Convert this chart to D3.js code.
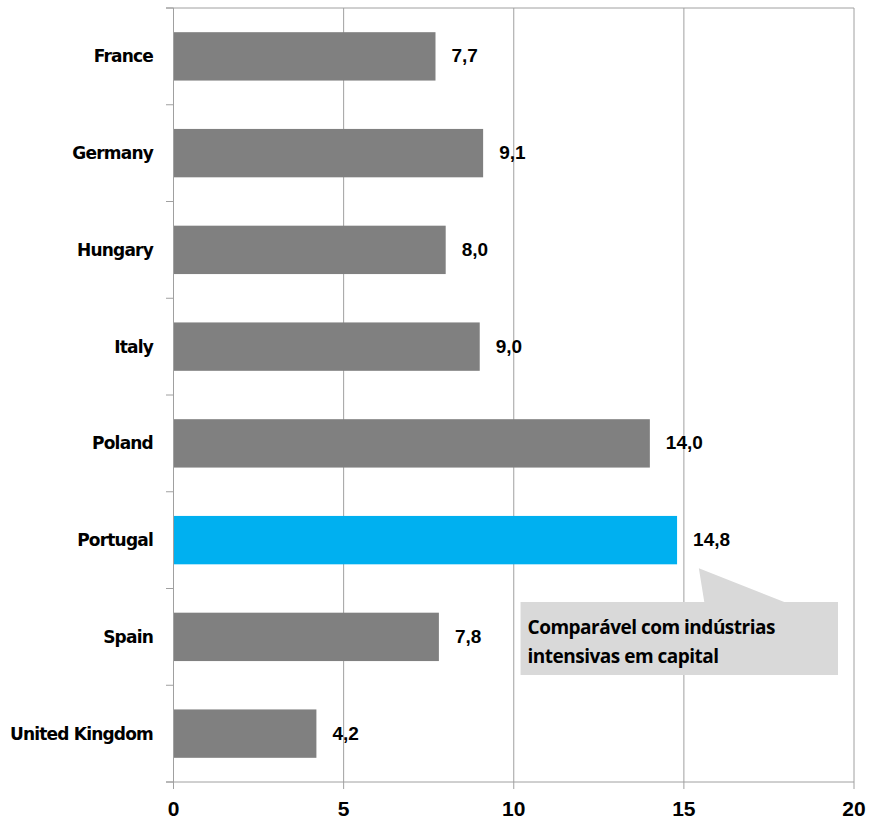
<html>
<head>
<meta charset="utf-8">
<title>Bar chart</title>
<style>
  html, body { margin: 0; background: #fff; }
  .cat { font-family: "DejaVu Sans", sans-serif; font-weight: bold; font-size: 17px; letter-spacing: -0.8px; fill: #000; }
  .val { font-family: "Liberation Sans", Arial, sans-serif; font-weight: bold; font-size: 19px; fill: #000; }
  .tick { font-family: "Liberation Sans", Arial, sans-serif; font-weight: bold; font-size: 21px; fill: #000; }
  .note { font-family: "Open Sans", sans-serif; font-weight: 700; font-size: 19px; letter-spacing: -0.5px; fill: #000; }
</style>
</head>
<body>
<div id="chart"></div>
<script src="https://cdn.jsdelivr.net/npm/d3@7"></script>
<script>
var countries = ["France", "Germany", "Hungary", "Italy", "Poland", "Portugal", "Spain", "United Kingdom"]
var values = [7.7, 9.1, 8.0, 9.0, 14.0, 14.8, 7.8, 4.2]
var highlight = "Portugal"
var xTicks = [0, 5, 10, 15, 20]
var noteLines = ["Comparável com indústrias", "intensivas em capital"]

var width = 870, height = 820
var svg = d3.select("#chart").append("svg")
  .attr("width", width)
  .attr("height", height)

var x = d3.scaleLinear().domain([0, 20]).range([173.5, 854])
var y = d3.scaleBand().domain(countries).range([8, 782]).paddingInner(0.5).paddingOuter(0.25)
var step = y.step()
var lineColor = "#a0a0a0"

// vertical gridlines
svg.selectAll("line.grid")
  .data(xTicks.slice(1))
  .enter().append("line")
  .attr("x1", function(d) { return x(d) }).attr("x2", function(d) { return x(d) })
  .attr("y1", 8).attr("y2", 782)
  .attr("stroke", lineColor).attr("stroke-width", 1)

// top line
svg.append("line")
  .attr("x1", 166).attr("x2", x(20)).attr("y1", 8).attr("y2", 8)
  .attr("stroke", lineColor)

// bars
svg.selectAll("rect.bar")
  .data(values)
  .enter().append("rect")
  .attr("x", x(0))
  .attr("y", function(d, i) { return y(countries[i]) })
  .attr("width", function(d) { return x(d) - x(0) })
  .attr("height", y.bandwidth())
  .attr("fill", function(d, i) { return countries[i] === highlight ? "#00b0f0" : "#808080" })

// value labels
svg.selectAll("text.val")
  .data(values)
  .enter().append("text")
  .attr("class", "val")
  .attr("x", function(d) { return x(d) + 16 })
  .attr("y", function(d, i) { return y(countries[i]) + y.bandwidth() / 2 + 1 })
  .attr("dominant-baseline", "middle")
  .text(function(d) { return d.toFixed(1).replace(".", ",") })

// category axis
svg.append("line")
  .attr("x1", x(0)).attr("x2", x(0)).attr("y1", 8).attr("y2", 782)
  .attr("stroke", lineColor)
svg.selectAll("line.ctick")
  .data(d3.range(countries.length + 1))
  .enter().append("line")
  .attr("x1", 166).attr("x2", x(0))
  .attr("y1", function(i) { return 8 + i * step }).attr("y2", function(i) { return 8 + i * step })
  .attr("stroke", lineColor)
svg.selectAll("text.cat")
  .data(countries)
  .enter().append("text")
  .attr("class", "cat")
  .attr("x", 153)
  .attr("y", function(d) { return y(d) + y.bandwidth() / 2 + 1 })
  .attr("text-anchor", "end")
  .attr("dominant-baseline", "middle")
  .text(function(d) { return d })

// value axis
svg.append("line")
  .attr("x1", 166).attr("x2", x(20)).attr("y1", 782).attr("y2", 782)
  .attr("stroke", lineColor)
svg.selectAll("line.vtick")
  .data(xTicks)
  .enter().append("line")
  .attr("x1", function(d) { return x(d) }).attr("x2", function(d) { return x(d) })
  .attr("y1", 782).attr("y2", 789)
  .attr("stroke", lineColor)
svg.selectAll("text.tick")
  .data(xTicks)
  .enter().append("text")
  .attr("class", "tick")
  .attr("x", function(d) { return x(d) })
  .attr("y", 816)
  .attr("text-anchor", "middle")
  .text(function(d) { return d })

// callout
var pt = y(highlight) + y.bandwidth() + 4
var box = { x0: x(10.2), x1: x(19.53), y0: 602, y1: 675 }
svg.append("path")
  .attr("d", "M" + box.x0 + "," + box.y0 + "H" + x(15.6) + "L" + x(15.44) + "," + pt + "L" + x(17.95) + "," + box.y0 +
    "H" + box.x1 + "V" + box.y1 + "H" + box.x0 + "Z")
  .attr("fill", "#d9d9d9")
svg.selectAll("text.note")
  .data(noteLines)
  .enter().append("text")
  .attr("class", "note")
  .attr("x", box.x0 + 7)
  .attr("y", function(d, i) { return 634 + i * 28.5 })
  .text(function(d) { return d })
</script>
</body>
</html>
